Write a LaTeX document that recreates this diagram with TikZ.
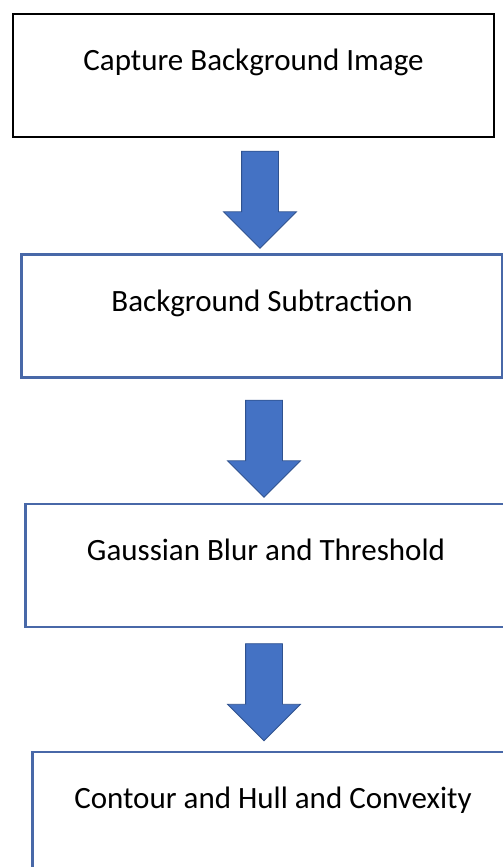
\documentclass[tikz,border=0pt]{standalone}
\usepackage{fontspec}
\setmainfont{Carlito}
\usetikzlibrary{shapes.arrows}

\definecolor{arrowblue}{RGB}{68,114,196}
\definecolor{arrowedge}{RGB}{47,82,143}
\definecolor{boxblue}{RGB}{72,104,168}

\begin{document}
\begin{tikzpicture}[x=1pt,y=-1pt,
						every node/.style={font=\fontsize{31}{36}\selectfont},
						stepbox/.style={draw=boxblue,line width=2.6pt,fill=white,
						minimum width=481pt,minimum height=123pt,inner sep=0pt,
						text depth=31pt},
						downarrow/.style={single arrow,rotate=-90,draw=arrowedge,
						fill=arrowblue,line width=0.8pt,minimum height=97pt,
						inner xsep=0pt,inner ysep=18pt,single arrow head extend=18pt,
						single arrow head indent=0pt}]

		\useasboundingbox (0,0) rectangle (503,867);
		\clip (0,0) rectangle (503,867);

		\node [stepbox,draw=black,line width=2.6pt] (capture) at (253.5,75.5) {Capture Background Image};
		\node [stepbox] (subtract) at (262,316) {Background Subtraction};
		\node [stepbox] (blur) at (266,565.5) {Gaussian Blur and Threshold};
		\node [stepbox] (contour) at (273,813.5) {Contour and Hull and Convexity};

		\node [downarrow] (a1) at (260,190.5) {};
		\node [downarrow] (a2) at (264,439.5) {};
		\node [downarrow] (a3) at (264,683) {};

	\end{tikzpicture}
\end{document}
